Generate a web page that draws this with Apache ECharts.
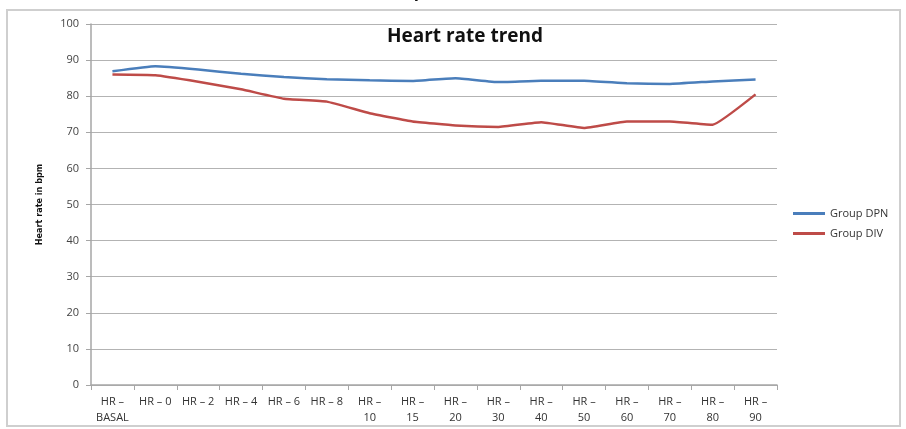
<!DOCTYPE html>
<html>
<head>
<meta charset="utf-8">
<script src="https://cdn.jsdelivr.net/npm/echarts@6/dist/echarts.min.js"></script>
<style>
  html, body { margin: 0; padding: 0; background: #ffffff; }
  #chart { width: 906px; height: 429px; }
</style>
</head>
<body>
<div id="chart"></div>
<script>
var categories = ['HR –\nBASAL', 'HR – 0', 'HR – 2', 'HR – 4', 'HR – 6', 'HR – 8',
  'HR –\n10', 'HR –\n15', 'HR –\n20', 'HR –\n30', 'HR –\n40', 'HR –\n50',
  'HR –\n60', 'HR –\n70', 'HR –\n80', 'HR –\n90']
var groupDPN = [86.9, 88.3, 87.4, 86.2, 85.3, 84.7, 84.4, 84.2, 85, 83.9, 84.3, 84.3, 83.6, 83.4, 84.1, 84.6]
var groupDIV = [86, 85.8, 84, 81.9, 79.3, 78.5, 75.3, 73, 71.9, 71.5, 72.8, 71.2, 73, 73, 72.1, 80.5]
var yTicks = { min: 0, max: 100, interval: 10 }

var myChart = echarts.init(document.getElementById('chart'))
var option = {
  animation: false,
  backgroundColor: '#ffffff',
  title: {
    text: 'Heart rate trend',
    left: 460,
    textAlign: 'center',
    top: 22,
    textStyle: { fontFamily: 'Open Sans', fontSize: 19, fontWeight: 'bold', color: '#111' }
  },
  graphic: [
    {
      type: 'rect', left: 6, top: 9, z: -1,
      shape: { width: 893, height: 416 },
      style: { fill: '#fff', stroke: '#cfcfcf', lineWidth: 2 }
    },
    {
      type: 'text', left: 408, top: -16,
      style: { text: '(p < 0.05))', font: 'bold 17px "Open Sans"', fill: '#111' }
    }
  ],
  legend: {
    orient: 'vertical',
    left: 788,
    top: 203,
    itemGap: 9,
    itemWidth: 32,
    itemHeight: 3,
    icon: 'rect',
    textStyle: { fontFamily: 'Open Sans', fontSize: 11, color: '#333' },
    data: ['Group DPN', 'Group DIV']
  },
  grid: { left: 91, right: 129, top: 24, bottom: 44 },
  xAxis: {
    type: 'category',
    data: categories,
    boundaryGap: true,
    axisLine: { lineStyle: { color: '#a6a6a6', width: 1.5 } },
    axisTick: { show: true, length: 5, lineStyle: { color: '#a6a6a6' } },
    axisLabel: {
      interval: 0, color: '#333', fontFamily: 'Open Sans', fontSize: 11,
      lineHeight: 16, margin: 9
    }
  },
  yAxis: {
    type: 'value',
    min: yTicks.min, max: yTicks.max, interval: yTicks.interval,
    name: 'Heart rate in bpm',
    nameLocation: 'middle',
    nameRotate: 90,
    nameGap: 47,
    nameTextStyle: { fontFamily: 'DejaVu Sans Condensed', fontSize: 9, fontWeight: 'bold', color: '#111' },
    axisLine: { show: true, lineStyle: { color: '#a6a6a6', width: 1.5 } },
    axisTick: { show: true, length: 5, lineStyle: { color: '#a6a6a6' } },
    axisLabel: { color: '#444', fontFamily: 'Open Sans', fontSize: 11, margin: 12 },
    splitLine: { lineStyle: { color: '#b3b3b3', width: 1 } }
  },
  series: [
    {
      name: 'Group DPN', type: 'line', data: groupDPN, symbol: 'none', smooth: 0.1,
      lineStyle: { color: '#4a7ebb', width: 2.5 }, itemStyle: { color: '#4a7ebb' }
    },
    {
      name: 'Group DIV', type: 'line', data: groupDIV, symbol: 'none', smooth: 0.1,
      lineStyle: { color: '#be4b48', width: 2.5 }, itemStyle: { color: '#be4b48' }
    }
  ]
}
myChart.setOption(option)
</script>
</body>
</html>
